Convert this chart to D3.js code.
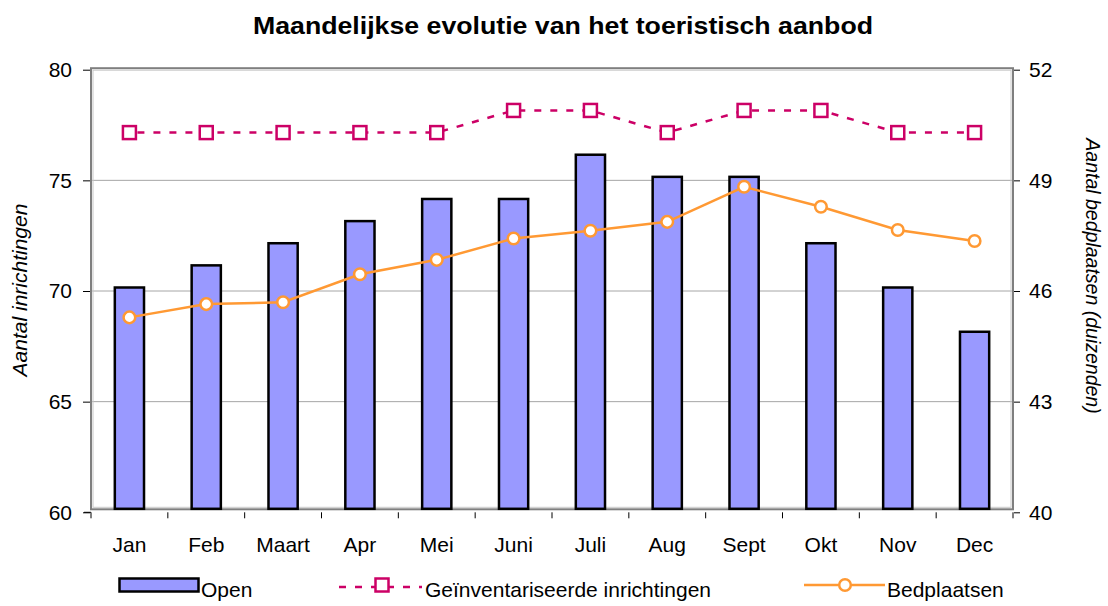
<!DOCTYPE html>
<html>
<head>
<meta charset="utf-8">
<script src="https://cdn.jsdelivr.net/npm/d3@7"></script>
<style>
  html, body { margin: 0; padding: 0; background: #fff; }
  svg { display: block; font-family: "Liberation Sans", Arial, sans-serif; }
</style>
</head>
<body>
<svg id="chart" width="1108" height="606"></svg>
<script>
// ---- data ----
const months = ["Jan", "Feb", "Maart", "Apr", "Mei", "Juni", "Juli", "Aug", "Sept", "Okt", "Nov", "Dec"];
const openValues = [70, 71, 72, 73, 74, 74, 76, 75, 75, 72, 70, 68];
const inventoryValues = [77, 77, 77, 77, 77, 78, 78, 77, 78, 78, 77, 77];
const bedValues = [45.19, 45.55, 45.60, 46.36, 46.75, 47.33, 47.54, 47.78, 48.73, 48.19, 47.56, 47.26];
const leftTicks = [60, 65, 70, 75, 80];
const rightTicks = [40, 43, 46, 49, 52];
const titleText = "Maandelijkse evolutie van het toeristisch aanbod";
const leftTitle = "Aantal inrichtingen";
const rightTitle = "Aantal bedplaatsen (duizenden)";
const legendLabels = ["Open", "Geïnventariseerde inrichtingen", "Bedplaatsen"];

// ---- layout ----
const plot = { left: 91, right: 1013, top: 69.7, bottom: 512.3 };
const svg = d3.select("#chart");

const x = d3.scaleBand().domain(months).range([plot.left, plot.right])
  .paddingInner(0.62).paddingOuter(0.31);
const yL = d3.scaleLinear().domain([60, 80]).range([plot.bottom, plot.top]);
const yR = d3.scaleLinear().domain([40, 52]).range([plot.bottom, plot.top]);
const cx = d => x(d) + x.bandwidth() / 2;

const barFill = "#9999FF", magenta = "#CC0066", orange = "#FF9933";

// gridlines
svg.append("g").selectAll("line").data(leftTicks.slice(1, -1)).join("line")
  .attr("x1", plot.left).attr("x2", plot.right)
  .attr("y1", d => yL(d)).attr("y2", d => yL(d))
  .attr("stroke", "#a6a6a6").attr("stroke-width", 1);

// plot frame (Excel style)
svg.append("rect")
  .attr("x", plot.left).attr("y", plot.top - 1.5)
  .attr("width", plot.right - plot.left).attr("height", plot.bottom - plot.top - 1.5)
  .attr("fill", "none").attr("stroke", "#7f7f7f").attr("stroke-width", 2);
svg.append("rect")
  .attr("x", plot.left + 2).attr("y", plot.top + 0.5)
  .attr("width", plot.right - plot.left - 4).attr("height", plot.bottom - plot.top - 5.5)
  .attr("fill", "none").attr("stroke", "#c8c8c8").attr("stroke-width", 1);

// data group (slight Excel offset)
const data = svg.append("g").attr("transform", "translate(0,-3.5)");

data.append("g").selectAll("rect").data(months).join("rect")
  .attr("x", d => x(d)).attr("width", x.bandwidth())
  .attr("y", (d, i) => yL(openValues[i]))
  .attr("height", (d, i) => yL(60) - yL(openValues[i]))
  .attr("fill", barFill).attr("stroke", "#000").attr("stroke-width", 2.5);

// inventory dashed line
const invLine = d3.line().x((d, i) => cx(months[i])).y(d => yL(d));
data.append("path").datum(inventoryValues).attr("d", invLine)
  .attr("fill", "none").attr("stroke", magenta).attr("stroke-width", 2.5)
  .attr("stroke-dasharray", "7,9").attr("stroke-dashoffset", -8);
data.append("g").selectAll("rect").data(inventoryValues).join("rect")
  .attr("x", (d, i) => cx(months[i]) - 6.5).attr("y", d => yL(d) - 6.5)
  .attr("width", 13).attr("height", 13)
  .attr("fill", "#fff").attr("stroke", magenta).attr("stroke-width", 2.5);

// beds line
const bedLine = d3.line().x((d, i) => cx(months[i])).y(d => yR(d));
data.append("path").datum(bedValues).attr("d", bedLine)
  .attr("fill", "none").attr("stroke", orange).attr("stroke-width", 2.5);
data.append("g").selectAll("circle").data(bedValues).join("circle")
  .attr("cx", (d, i) => cx(months[i])).attr("cy", d => yR(d)).attr("r", 5.8)
  .attr("fill", "#fff").attr("stroke", orange).attr("stroke-width", 2.5);

// axes
const fontSize = 21;
const leftAxis = svg.append("g").attr("transform", `translate(${plot.left - 1},0)`)
  .call(d3.axisLeft(yL).tickValues(leftTicks).tickSize(7).tickPadding(11));
const rightAxis = svg.append("g").attr("transform", `translate(${plot.right + 1},0)`)
  .call(d3.axisRight(yR).tickValues(rightTicks).tickSize(6).tickPadding(9));
const bottomAxis = svg.append("g").attr("transform", `translate(0,${plot.bottom})`)
  .call(d3.axisBottom(x).tickSize(0).tickPadding(25));
[leftAxis, rightAxis, bottomAxis].forEach(a => {
  a.select(".domain").remove();
  a.selectAll("text").attr("font-size", fontSize).attr("fill", "#000")
    .attr("font-family", "'Liberation Sans', Arial, sans-serif");
  a.selectAll("line").attr("stroke", "#000");
});
// category boundary ticks
const bounds = months.map(m => x(m) - (x.step() - x.bandwidth()) / 2).concat([plot.right]);
svg.append("g").selectAll("line").data(bounds).join("line")
  .attr("x1", d => d).attr("x2", d => d)
  .attr("y1", plot.bottom).attr("y2", plot.bottom + 6)
  .attr("stroke", "#000");
svg.append("line").attr("x1", plot.left - 7).attr("x2", plot.left)
  .attr("y1", plot.bottom).attr("y2", plot.bottom).attr("stroke", "#000");

// title
svg.append("text").attr("x", 563).attr("y", 34).attr("text-anchor", "middle")
  .attr("font-size", 24).attr("font-weight", "bold")
  .attr("textLength", 620).attr("lengthAdjust", "spacingAndGlyphs")
  .text(titleText);

// axis titles
svg.append("text").attr("transform", "translate(27,290) rotate(-90)")
  .attr("text-anchor", "middle").attr("font-size", 21).attr("font-style", "italic")
  .text(leftTitle);
svg.append("text").attr("transform", "translate(1086,276) rotate(90)")
  .attr("text-anchor", "middle").attr("font-size", 19.5).attr("font-style", "italic")
  .text(rightTitle);

// legend
const lg = svg.append("g");
const ly = 585;
lg.append("rect").attr("x", 119.5).attr("y", 578.5).attr("width", 79).attr("height", 13)
  .attr("fill", barFill).attr("stroke", "#000").attr("stroke-width", 2.5);
lg.append("text").attr("x", 201).attr("y", 597).attr("font-size", fontSize).text(legendLabels[0]);

lg.append("line").attr("x1", 339).attr("x2", 422).attr("y1", ly + 2).attr("y2", ly + 2)
  .attr("stroke", magenta).attr("stroke-width", 2.5).attr("stroke-dasharray", "7,9");
lg.append("rect").attr("x", 382 - 6.5).attr("y", ly - 6.5).attr("width", 13).attr("height", 13)
  .attr("fill", "#fff").attr("stroke", magenta).attr("stroke-width", 2.5);
lg.append("text").attr("x", 425).attr("y", 597).attr("font-size", fontSize).text(legendLabels[1]);

lg.append("line").attr("x1", 804).attr("x2", 885).attr("y1", ly).attr("y2", ly)
  .attr("stroke", orange).attr("stroke-width", 2.5);
lg.append("circle").attr("cx", 845).attr("cy", ly).attr("r", 5.8)
  .attr("fill", "#fff").attr("stroke", orange).attr("stroke-width", 2.5);
lg.append("text").attr("x", 887).attr("y", 597).attr("font-size", fontSize).text(legendLabels[2]);
</script>
</body>
</html>
